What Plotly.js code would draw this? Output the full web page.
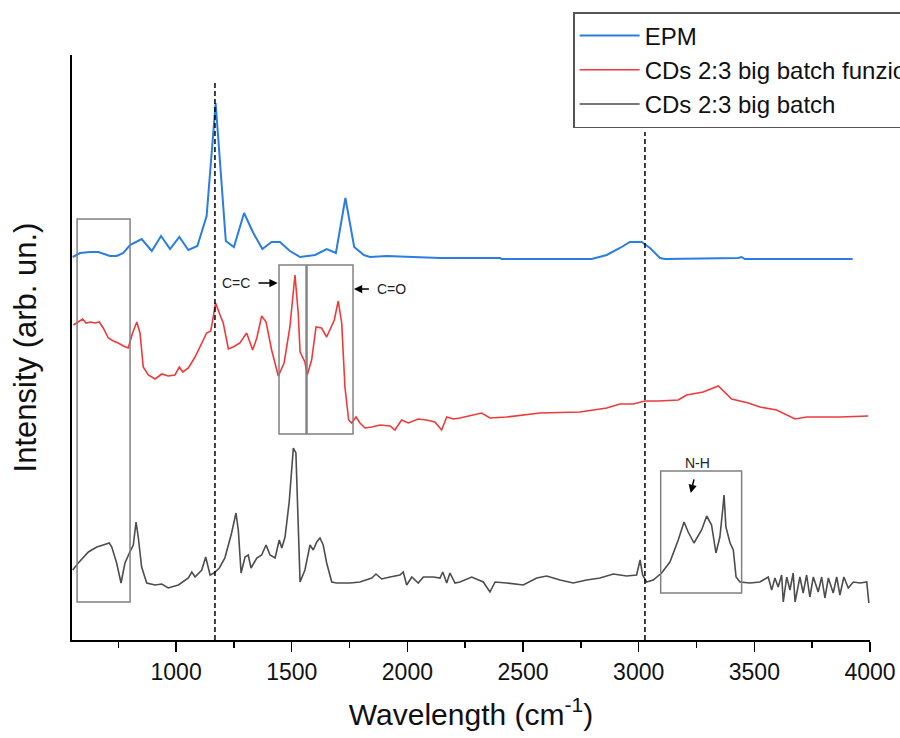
<!DOCTYPE html>
<html>
<head>
<meta charset="utf-8">
<script src="https://cdn.plot.ly/plotly-3.0.1.min.js"></script>
<style>html,body{margin:0;padding:0;background:#fff;}#chart{width:900px;height:738px;}</style>
</head>
<body>
<div id="chart"></div>
<script>
// Series names
const seriesNames = ["EPM", "CDs 2:3 big batch funzionalizzati", "CDs 2:3 big batch"];

// EPM (blue), offset arbitrary units
const epmX = [553,585,628,664,714,743,772,801,851,895,935,974,1014,1053,1092,1132,1171,1215,1250,1294,1334,1373,1413,1449,1492,1536,1601,1651,1691,1732,1770,1812,1838,1882,1911,2024,2141,2400,2408,2797,2862,2919,2962,3013,3049,3092,3114,3430,3445,3459,3925];
const epmY = [383,387,388,388,384,384,387,395,401,389,404,391,403,390,394,424,537,399,393,427,407,391,398,398,389,383,385,391,387,442,393,385,383,384,384,383,382,382,381,381,385,392,398,398,392,382,381,382,383,381,381];

// CDs 2:3 big batch funzionalizzati (red)
const funzX = [556,577,596,611,631,649,668,685,707,729,750,772,793,812,830,844,858,880,909,938,966,995,1014,1029,1053,1082,1111,1132,1150,1161,1171,1190,1204,1226,1247,1276,1305,1331,1349,1370,1389,1413,1442,1467,1492,1514,1528,1536,1557,1567,1586,1605,1629,1651,1673,1684,1701,1716,1730,1746,1759,1778,1795,1817,1846,1882,1925,1946,1975,2004,2047,2083,2119,2148,2170,2198,2227,2249,2321,2357,2429,2573,2746,2862,2919,2977,3027,3085,3171,3207,3279,3344,3402,3474,3524,3596,3640,3676,3726,3784,3870,3992];
const funzY = [315,318,321,317,318,317,318,312,302,299,297,294,292,307,318,307,273,265,261,266,264,265,273,268,272,283,297,307,309,325,337,325,317,291,293,297,307,290,302,324,318,290,264,277,313,365,327,288,278,265,280,313,312,303,315,320,339,317,253,220,217,223,217,212,213,215,214,210,220,217,221,220,218,210,223,221,222,223,227,222,223,227,228,232,236,236,239,239,240,245,248,254,241,237,233,230,225,221,223,223,223,224];

// CDs 2:3 big batch (grey)
const batchX = [553,577,621,657,685,711,722,743,762,779,798,815,827,837,851,873,909,938,966,1010,1053,1068,1082,1111,1128,1147,1164,1187,1211,1240,1259,1269,1281,1298,1312,1324,1349,1370,1389,1406,1428,1446,1457,1471,1489,1507,1518,1526,1536,1557,1579,1593,1608,1622,1636,1651,1673,1694,1752,1795,1846,1864,1889,1925,1968,1982,1997,2019,2047,2069,2112,2141,2153,2170,2184,2206,2227,2278,2328,2357,2379,2429,2501,2559,2602,2660,2717,2775,2833,2890,2948,2991,3006,3017,3034,3063,3099,3135,3171,3196,3214,3239,3272,3294,3315,3334,3351,3363,3369,3377,3395,3409,3421,3438,3481,3524,3560,3575,3589,3603,3618,3625,3640,3654,3668,3676,3697,3711,3726,3740,3755,3776,3791,3805,3820,3841,3856,3870,3887,3906,3928,3957,3986,3995];
const batchY = [70,77,88,93,95,97,93,77,57,77,87,95,118,102,73,57,55,56,52,55,62,68,63,70,83,65,67,72,82,107,127,110,67,83,85,72,82,85,95,85,82,100,92,103,138,192,187,137,58,70,95,90,98,102,95,77,58,57,57,58,62,66,61,63,65,68,55,63,57,63,63,62,68,57,67,57,58,63,58,48,58,57,55,62,64,60,57,60,62,66,64,65,80,65,58,60,67,78,100,118,108,97,110,124,115,87,103,130,145,113,97,90,63,58,57,58,63,50,62,53,65,38,63,50,67,38,63,47,65,43,63,48,63,42,62,47,63,45,63,52,58,57,58,37];

// Axis ticks
const xTickVals = [1000,1500,2000,2500,3000,3500,4000];
const xTickText = ["1000","1500","2000","2500","3000","3500","4000"];

// Reference markers and highlighted regions
const dashedLinesX = [1168, 3027];
const dashedLinesTop = [560, 508];
const boxes = [
  {x0:572, x1:801, y0:38, y1:421},
  {x0:1445, x1:1562, y0:206, y1:375},
  {x0:1566, x1:1765, y0:206, y1:375},
  {x0:3095, x1:3445, y0:47, y1:169}
];
const labels = [
  {text:"C=C", x:1439, y:357, ax:1259, ay:357},
  {text:"C=O", x:1769, y:351, ax:1933, ay:351},
  {text:"N-H", x:3225, y:147, ax:3256, ay:177}
];

const colors = ["#2a7de1", "#ef3a3a", "#4d4d4d"];
const font = "Liberation Sans, Arial, sans-serif";

const traces = [
  {x:epmX, y:epmY, name:seriesNames[0], type:"scatter", mode:"lines", line:{color:colors[0], width:2}},
  {x:funzX, y:funzY, name:seriesNames[1], type:"scatter", mode:"lines", line:{color:colors[1], width:1.6}},
  {x:batchX, y:batchY, name:seriesNames[2], type:"scatter", mode:"lines", line:{color:colors[2], width:1.6}}
];

const shapes = [];
dashedLinesX.forEach((xv, i) => {
  shapes.push({type:"line", xref:"x", yref:"y", x0:xv, x1:xv, y0:0, y1:dashedLinesTop[i],
    line:{color:"#000", width:1.5, dash:"5px,3px"}});
});
boxes.forEach(b => {
  shapes.push({type:"rect", xref:"x", yref:"y", x0:b.x0, x1:b.x1, y0:b.y0, y1:b.y1,
    line:{color:"#808080", width:1.5}, fillcolor:"rgba(0,0,0,0)"});
});

const annotations = labels.map(l => ({
  text:l.text, x:l.x, y:l.y, ax:l.ax, ay:l.ay, xref:"x", yref:"y", axref:"x", ayref:"y",
  showarrow:true, arrowhead:2, arrowsize:1.1, arrowwidth:1.5, arrowcolor:"#000",
  startstandoff:7, font:{family:font, size:14, color:"#222"}
}));

const layout = {
  width:900, height:738,
  margin:{l:72, r:30, t:55, b:98, autoexpand:false},
  paper_bgcolor:"#fff", plot_bgcolor:"#fff",
  font:{family:font, color:"#000"},
  xaxis:{
    range:[550,4000], tickmode:"array", tickvals:xTickVals, ticktext:xTickText,
    ticks:"outside", ticklen:10, tickwidth:1.5, tickcolor:"#000",
    minor:{dtick:250, tick0:750, ticks:"outside", ticklen:6, tickwidth:1.5, tickcolor:"#000", showgrid:false},
    showline:true, linecolor:"#000", linewidth:2, showgrid:false, zeroline:false,
    tickfont:{family:font, size:23, color:"#111"},
    title:{text:"Wavelength (cm<sup>-1</sup>)", font:{family:font, size:30, color:"#111"}, standoff:20}
  },
  yaxis:{
    range:[0,585], showticklabels:false, ticks:"", showline:true, linecolor:"#000", linewidth:2,
    showgrid:false, zeroline:false,
    title:{text:"Intensity (arb. un.)", font:{family:font, size:31, color:"#111"}, standoff:24}
  },
  showlegend:true,
  legend:{x:0.628, y:1.0735, xanchor:"left", yanchor:"top", bgcolor:"#fff",
    bordercolor:"#555", borderwidth:1.5, font:{family:font, size:24, color:"#111"},
    itemwidth:60, tracegroupgap:0},
  shapes:shapes,
  annotations:annotations
};

Plotly.newPlot("chart", traces, layout, {displayModeBar:false, staticPlot:true});
</script>
</body>
</html>
